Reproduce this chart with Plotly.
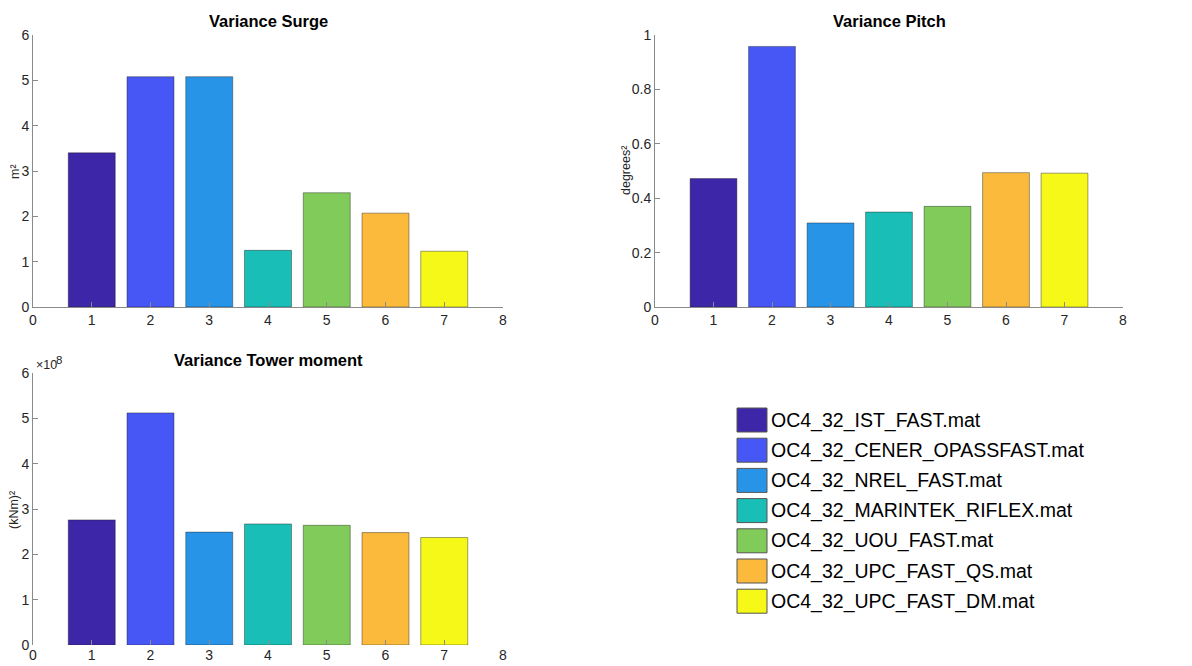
import plotly.graph_objects as go

# ---- data -------------------------------------------------------------
runs = [
    "OC4_32_IST_FAST.mat",
    "OC4_32_CENER_OPASSFAST.mat",
    "OC4_32_NREL_FAST.mat",
    "OC4_32_MARINTEK_RIFLEX.mat",
    "OC4_32_UOU_FAST.mat",
    "OC4_32_UPC_FAST_QS.mat",
    "OC4_32_UPC_FAST_DM.mat",
]
positions = [1, 2, 3, 4, 5, 6, 7]
var_surge = [3.40, 5.08, 5.08, 1.25, 2.52, 2.07, 1.23]            # m^2
var_pitch = [0.472, 0.958, 0.309, 0.349, 0.370, 0.494, 0.492]     # deg^2
var_tower = [2.76e8, 5.12e8, 2.49e8, 2.67e8, 2.64e8, 2.48e8, 2.37e8]  # (kNm)^2

colors = ["#3d26a8", "#4657f5", "#2894e8", "#19bfb7",
          "#81cb5a", "#fbba3b", "#f6f918"]

tower_ticks = [0, 1e8, 2e8, 3e8, 4e8, 5e8, 6e8]
tower_ticktext = ["0", "1", "2", "3", "4", "5", "6"]

# ---- page geometry (pixels) ------------------------------------------
W, H = 1192, 666
FONT = "Liberation Sans, Arial, Helvetica, sans-serif"
TXT = "#262626"
AXC = "#8a8a8a"


def px(x):
    return x / W


def py(y):
    return 1 - y / H


fig = go.Figure()

panels = [
    ("x", "y", var_surge),
    ("x2", "y2", var_pitch),
    ("x3", "y3", var_tower),
]
for xa, ya, vals in panels:
    fig.add_trace(go.Bar(
        x=positions, y=vals, width=0.8,
        marker=dict(color=colors, line=dict(color="rgba(30,30,30,0.7)", width=0.6)),
        xaxis=xa, yaxis=ya, showlegend=False, hoverinfo="x+y",
    ))

common_x = dict(range=[0, 8], tick0=0, dtick=1, ticks="inside", ticklen=5,
                tickcolor=AXC, showline=True, linecolor=AXC, linewidth=1,
                showgrid=False, zeroline=False, fixedrange=True, automargin=False,
                tickfont=dict(family=FONT, size=14, color=TXT))
common_y = dict(ticks="inside", ticklen=5, tickcolor=AXC, showline=True,
                linecolor=AXC, linewidth=1, showgrid=False, zeroline=False,
                fixedrange=True, automargin=False,
                tickfont=dict(family=FONT, size=14, color=TXT))

fig.update_layout(
    width=W, height=H, autosize=False,
    margin=dict(l=0, r=0, t=0, b=0, pad=0, autoexpand=False),
    paper_bgcolor="white", plot_bgcolor="white",
    xaxis=dict(common_x, domain=[px(33), px(503)], anchor="y"),
    yaxis=dict(common_y, domain=[py(307), py(35)], range=[0, 6], dtick=1, anchor="x"),
    xaxis2=dict(common_x, domain=[px(655), px(1123)], anchor="y2"),
    yaxis2=dict(common_y, domain=[py(307), py(35)], range=[0, 1], dtick=0.2, anchor="x2"),
    xaxis3=dict(common_x, domain=[px(33), px(503)], anchor="y3", showline=False),
    yaxis3=dict(common_y, domain=[py(645), py(373)], range=[0, 6e8],
                tickvals=tower_ticks, ticktext=tower_ticktext, anchor="x3"),
)

ann = []
# subplot titles
for text, cx, cy in [("Variance Surge", 268, 21),
                     ("Variance Pitch", 889, 21),
                     ("Variance Tower moment", 268, 360)]:
    ann.append(dict(text=f"<b>{text}</b>", x=px(cx), y=py(cy), xref="paper", yref="paper",
                    xanchor="center", yanchor="middle", showarrow=False,
                    font=dict(family=FONT, size=16.5, color="black")))
# y-axis titles
for text, cx, cy in [("m²", 15, 171), ("degrees²", 626, 171), ("(kNm)²", 14, 510)]:
    ann.append(dict(text=text, x=px(cx), y=py(cy), xref="paper", yref="paper",
                    xanchor="center", yanchor="middle", textangle=-90, showarrow=False,
                    font=dict(family=FONT, size=12.5, color=TXT)))
# exponent label for the tower-moment axis: "×10" with a raised "8"
ann.append(dict(text="×10", x=px(34), y=py(365), xref="paper", yref="paper",
                xanchor="left", yanchor="middle", showarrow=False,
                font=dict(family=FONT, size=12.5, color=TXT)))
ann.append(dict(text="8", x=px(53.5), y=py(359.5), xref="paper", yref="paper",
                xanchor="left", yanchor="middle", showarrow=False,
                font=dict(family=FONT, size=11.5, color=TXT)))

# legend: colour swatches with run names
shapes = []
row0, pitch = 420, 30.2
for i, (name, col) in enumerate(zip(runs, colors)):
    cy = row0 + i * pitch
    shapes.append(dict(type="rect", xref="paper", yref="paper",
                       x0=px(737), x1=px(767), y0=py(cy + 12), y1=py(cy - 12),
                       fillcolor=col, line=dict(color="#555555", width=1)))
    ann.append(dict(text=name, x=px(769), y=py(cy), xref="paper", yref="paper",
                    xanchor="left", yanchor="middle", showarrow=False,
                    font=dict(family=FONT, size=19.5, color="black")))

fig.update_layout(annotations=ann, shapes=shapes)

fig.write_html("out.html")
